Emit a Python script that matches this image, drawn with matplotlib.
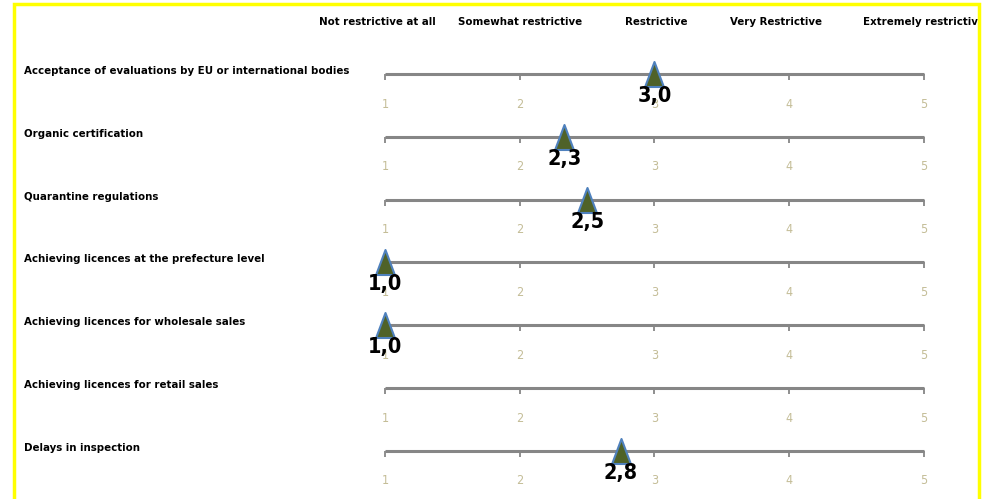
import numpy as np
import matplotlib.pyplot as plt
from matplotlib.patches import Rectangle
from matplotlib.path import Path

plt.rcParams['font.family'] = ['DejaVu Sans']
plt.rcParams['font.stretch'] = 'condensed'

# data
scale_labels = ['Not restrictive at all', 'Somewhat restrictive', 'Restrictive',
                'Very Restrictive', 'Extremely restrictive']
scale_values = [1, 2, 3, 4, 5]
categories = ['Acceptance of evaluations by EU or international bodies',
              'Organic certification',
              'Quarantine regulations',
              'Achieving licences at the prefecture level',
              'Achieving licences for wholesale sales',
              'Achieving licences for retail sales',
              'Delays in inspection']
scores = [3.0, 2.33, 2.5, 1.0, 1.0, np.nan, 2.75]

W, H = 983, 499
fig = plt.figure(figsize=(W / 100, H / 100), dpi=100)
ax = fig.add_axes([0, 0, 1, 1])
ax.axis('off')

# pixel layout: value 1 at x=385, 5 at x=924 ; row 0 at y=74, spacing ~62.8
ppu = (924 - 385) / 4
row_px = 62.83
ax.set_xlim(1 - 385 / ppu, 1 + (W - 385) / ppu)
ax.set_ylim((H - 74) / row_px, -74 / row_px)

line_col = '#868686'
tick_col = '#C4BD97'
tri = Path([(0, 1), (-0.75, -1), (0.75, -1), (0, 1)],
           [Path.MOVETO, Path.LINETO, Path.LINETO, Path.CLOSEPOLY])

for i, (cat, s) in enumerate(zip(categories, scores)):
    ax.plot([1, 5], [i, i], color=line_col, lw=2.2, solid_capstyle='butt', zorder=2)
    ax.vlines(scale_values, i, i + 6 / row_px, color=line_col, lw=1.3, zorder=2)
    for v in scale_values:
        ax.text(v, i + 30 / row_px, str(v), color=tick_col, fontsize=9,
                ha='center', va='center', zorder=1)
    ax.text(24 / W, i, cat, transform=ax.get_yaxis_transform(),
            fontsize=8.2, fontweight='bold', ha='left', va='baseline')
    if not np.isnan(s):
        ax.plot([s], [i], marker=tri, ms=18, mfc='#4F6228', mec='#4F81BD',
                mew=1.5, zorder=4)
        ax.text(s, i + 12 / row_px, f'{s:.1f}'.replace('.', ','), fontsize=15.5,
                fontweight='bold', ha='center', va='top', zorder=5)

# the original is cut at its right border
clip = Rectangle((0, 0), 978, H, transform=None)

# header labels, with small nudges (px) to match the original placement
header_nudge = [-8, 0, 2, -13, 0]
for v, lab, dx in zip(scale_values, scale_labels, header_nudge):
    t = ax.annotate(lab, (v, -52 / row_px), xytext=(dx * 0.72, 0),
                    textcoords='offset points', fontsize=8.2, fontweight='bold',
                    ha='center', va='center')
    t.set_clip_path(clip)

fig.patches.append(Rectangle((14, -10), 965, H - 4 + 10, transform=None,
                             fill=False, ec='#FFFF00', lw=2.5, zorder=10))

fig.savefig('out.png', dpi=100, facecolor='white')
